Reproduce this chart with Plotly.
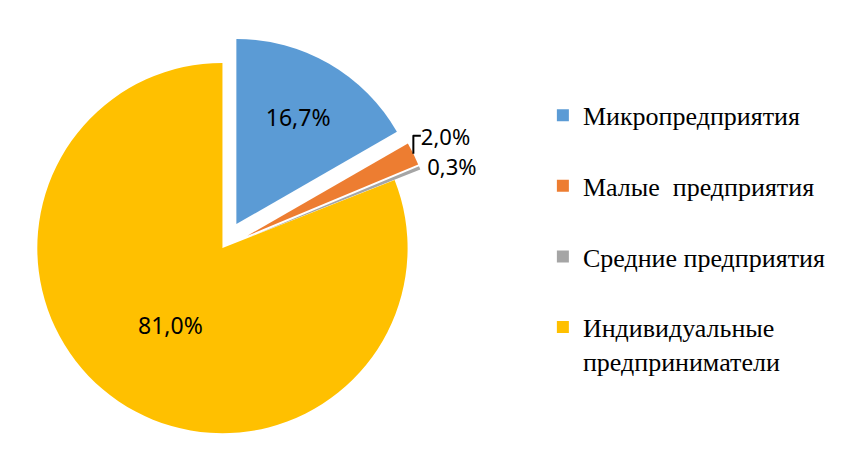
import plotly.graph_objects as go

categories = ["Микропредприятия", "Малые  предприятия", "Средние предприятия",
              "Индивидуальные<br>предприниматели"]
values = [16.7, 2.0, 0.3, 81.0]
colors = ["#5B9BD5", "#ED7D31", "#A5A5A5", "#FFC000"]
pulls = [0.15, 0.15, 0.15, 0.0]
text_pos = ["inside", "outside", "outside", "inside"]

legend_labels = [c if "<br>" in c else c + "<br> " for c in categories]

fig = go.Figure(go.Pie(
    labels=legend_labels,
    values=values,
    sort=False,
    direction="clockwise",
    rotation=0,
    pull=pulls,
    marker=dict(colors=colors, line=dict(color="rgba(255,255,255,0)", width=0)),
    texttemplate="%{value:.1f}%",
    textposition=text_pos,
    insidetextorientation="horizontal",
    textfont=dict(family="Noto Sans, Open Sans, sans-serif", size=23, color="#000000"),
    outsidetextfont=dict(family="Noto Sans, Open Sans, sans-serif", size=22, color="#000000"),
    domain=dict(x=[0, 0.51], y=[0, 0.94]),
    hoverinfo="label+percent",
))

fig.update_layout(
    width=841, height=453,
    margin=dict(l=0, r=0, t=0, b=0, autoexpand=False),
    paper_bgcolor="white",
    plot_bgcolor="white",
    separators=",.",
    showlegend=True,
    legend=dict(
        x=0.636, xanchor="left",
        y=0.815, yanchor="top",
        valign="top",
        font=dict(family="Liberation Serif, Times New Roman, serif", size=26, color="#000000"),
        bgcolor="rgba(0,0,0,0)",
    ),
)

fig.write_html("out.html")
